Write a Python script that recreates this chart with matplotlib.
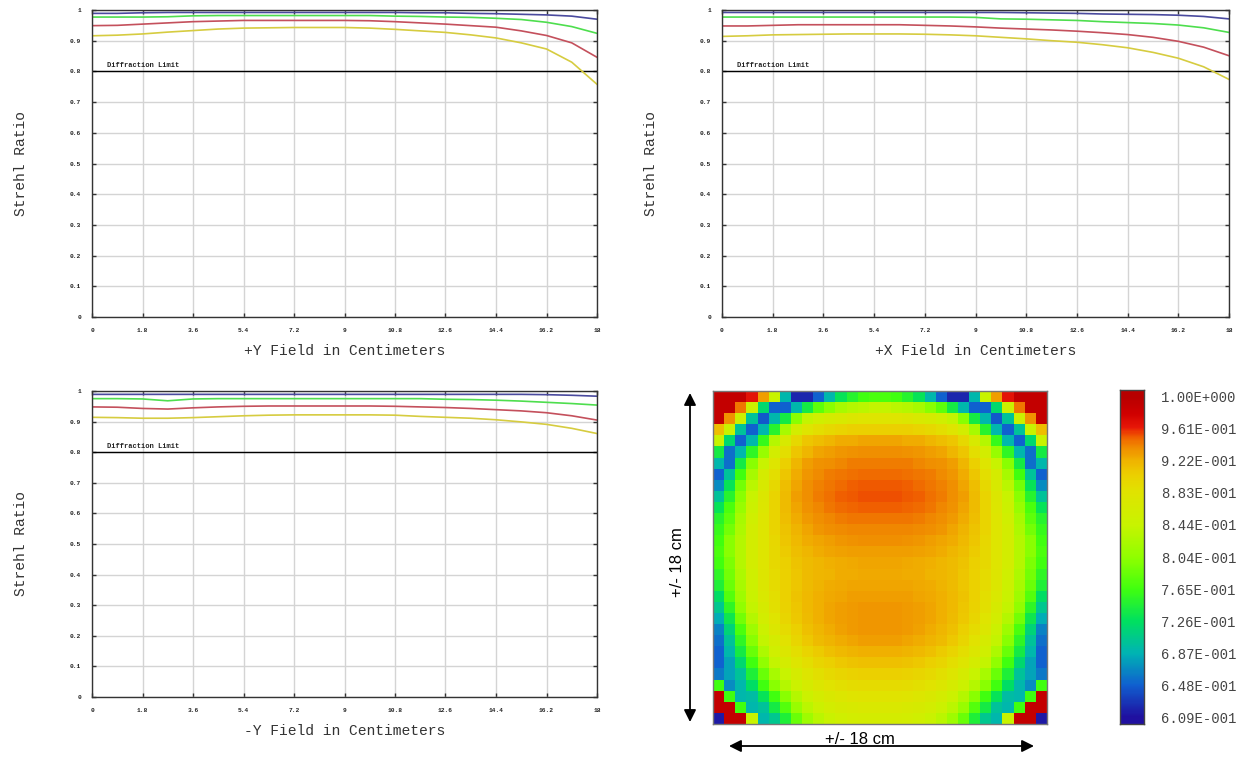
import numpy as np
import matplotlib
matplotlib.use("Agg")
import matplotlib.pyplot as plt
from matplotlib.colors import LinearSegmentedColormap, Normalize
from matplotlib.patches import FancyArrowPatch

# ---------------- data ----------------
field_x = [0, 0.9, 1.8, 2.7, 3.6, 4.5, 5.4, 6.3, 7.2, 8.1, 9.0, 9.9, 10.8, 11.7,
           12.6, 13.5, 14.4, 15.3, 16.2, 17.1, 18.0]
x_ticks = [0, 1.8, 3.6, 5.4, 7.2, 9, 10.8, 12.6, 14.4, 16.2, 18]
x_tick_labels = ["0", "1.8", "3.6", "5.4", "7.2", "9", "10.8", "12.6", "14.4", "16.2", "18"]
y_ticks = [0, 0.1, 0.2, 0.3, 0.4, 0.5, 0.6, 0.7, 0.8, 0.9, 1.0]
y_tick_labels = ["0", "0.1", "0.2", "0.3", "0.4", "0.5", "0.6", "0.7", "0.8", "0.9", "1"]

py_blue = [0.989, 0.989, 0.991, 0.992, 0.992, 0.992, 0.992, 0.992, 0.992, 0.992, 0.992,
           0.992, 0.992, 0.991, 0.991, 0.989, 0.988, 0.986, 0.984, 0.980, 0.970]
py_green = [0.977, 0.977, 0.977, 0.978, 0.981, 0.982, 0.982, 0.982, 0.982, 0.982, 0.982,
            0.982, 0.980, 0.979, 0.977, 0.976, 0.973, 0.969, 0.960, 0.946, 0.924]
py_red = [0.949, 0.950, 0.954, 0.958, 0.962, 0.964, 0.966, 0.966, 0.966, 0.966, 0.966,
          0.965, 0.962, 0.958, 0.954, 0.949, 0.944, 0.932, 0.917, 0.893, 0.846]
py_yellow = [0.916, 0.918, 0.922, 0.928, 0.933, 0.938, 0.941, 0.942, 0.943, 0.943, 0.943,
             0.941, 0.937, 0.932, 0.927, 0.919, 0.909, 0.893, 0.873, 0.830, 0.758]

px_blue = [0.992, 0.992, 0.992, 0.992, 0.992, 0.992, 0.992, 0.992, 0.992, 0.992, 0.992,
           0.992, 0.991, 0.990, 0.989, 0.987, 0.986, 0.985, 0.983, 0.979, 0.971]
px_green = [0.977, 0.977, 0.977, 0.977, 0.977, 0.977, 0.977, 0.977, 0.977, 0.977, 0.976,
            0.971, 0.970, 0.968, 0.966, 0.962, 0.959, 0.956, 0.951, 0.942, 0.927]
px_red = [0.948, 0.948, 0.950, 0.952, 0.952, 0.952, 0.952, 0.952, 0.950, 0.948, 0.945,
          0.941, 0.938, 0.935, 0.931, 0.926, 0.920, 0.911, 0.898, 0.879, 0.851]
px_yellow = [0.914, 0.916, 0.919, 0.920, 0.921, 0.922, 0.922, 0.922, 0.921, 0.919, 0.916,
             0.911, 0.906, 0.900, 0.895, 0.887, 0.877, 0.862, 0.843, 0.815, 0.774]

my_blue = [0.989, 0.989, 0.989, 0.989, 0.989, 0.989, 0.989, 0.989, 0.989, 0.989, 0.989,
           0.989, 0.989, 0.989, 0.989, 0.989, 0.989, 0.989, 0.988, 0.986, 0.983]
my_green = [0.975, 0.975, 0.974, 0.968, 0.974, 0.975, 0.975, 0.975, 0.975, 0.975, 0.975,
            0.975, 0.975, 0.975, 0.973, 0.972, 0.970, 0.967, 0.963, 0.959, 0.954]
my_red = [0.948, 0.947, 0.943, 0.941, 0.945, 0.948, 0.950, 0.951, 0.951, 0.951, 0.951,
          0.951, 0.950, 0.948, 0.946, 0.943, 0.939, 0.935, 0.929, 0.919, 0.905]
my_yellow = [0.914, 0.913, 0.911, 0.911, 0.913, 0.916, 0.919, 0.921, 0.922, 0.922, 0.922,
             0.922, 0.921, 0.917, 0.914, 0.911, 0.906, 0.899, 0.891, 0.878, 0.861]

diffraction_limit = 0.8

strehl_map = [
    [0.99,0.99,0.99,0.965,0.93,0.845,0.69,0.62,0.62,0.65,0.69,0.73,0.75,0.765,0.77,0.77,0.765,0.75,0.73,0.69,0.65,0.62,0.62,0.69,0.845,0.93,0.965,0.99,0.99,0.99],
    [0.99,0.99,0.945,0.85,0.72,0.65,0.65,0.69,0.74,0.78,0.80,0.82,0.83,0.835,0.84,0.84,0.835,0.83,0.82,0.80,0.78,0.74,0.69,0.65,0.65,0.72,0.85,0.945,0.99,0.99],
    [0.99,0.935,0.85,0.70,0.645,0.69,0.74,0.80,0.84,0.855,0.865,0.87,0.875,0.88,0.88,0.88,0.88,0.875,0.87,0.865,0.855,0.84,0.80,0.74,0.69,0.645,0.70,0.85,0.935,0.99],
    [0.915,0.845,0.70,0.65,0.69,0.75,0.82,0.86,0.88,0.89,0.895,0.90,0.905,0.905,0.905,0.905,0.905,0.905,0.90,0.895,0.89,0.88,0.86,0.82,0.75,0.69,0.65,0.70,0.845,0.915],
    [0.845,0.72,0.65,0.69,0.76,0.83,0.87,0.895,0.91,0.915,0.92,0.925,0.925,0.928,0.928,0.928,0.928,0.925,0.925,0.92,0.915,0.91,0.895,0.87,0.83,0.76,0.69,0.65,0.72,0.845],
    [0.74,0.655,0.69,0.755,0.81,0.86,0.89,0.91,0.92,0.927,0.93,0.933,0.935,0.937,0.937,0.937,0.937,0.935,0.933,0.93,0.927,0.92,0.91,0.89,0.86,0.81,0.755,0.69,0.655,0.74],
    [0.69,0.655,0.74,0.80,0.845,0.88,0.905,0.92,0.93,0.935,0.937,0.94,0.942,0.943,0.943,0.943,0.943,0.942,0.94,0.937,0.935,0.93,0.92,0.905,0.88,0.845,0.80,0.74,0.655,0.69],
    [0.65,0.70,0.765,0.82,0.865,0.89,0.91,0.925,0.933,0.938,0.942,0.944,0.946,0.948,0.948,0.948,0.948,0.946,0.944,0.942,0.938,0.933,0.925,0.91,0.89,0.865,0.82,0.765,0.70,0.65],
    [0.67,0.73,0.79,0.835,0.87,0.895,0.915,0.928,0.936,0.941,0.945,0.948,0.95,0.952,0.952,0.952,0.952,0.95,0.948,0.945,0.941,0.936,0.928,0.915,0.895,0.87,0.835,0.79,0.73,0.67],
    [0.70,0.75,0.80,0.845,0.875,0.90,0.917,0.93,0.937,0.942,0.946,0.95,0.952,0.954,0.954,0.954,0.954,0.952,0.95,0.946,0.942,0.937,0.93,0.917,0.90,0.875,0.845,0.80,0.75,0.70],
    [0.73,0.77,0.81,0.85,0.877,0.90,0.917,0.928,0.935,0.94,0.944,0.947,0.949,0.95,0.95,0.95,0.95,0.949,0.947,0.944,0.94,0.935,0.928,0.917,0.90,0.877,0.85,0.81,0.77,0.73],
    [0.75,0.78,0.82,0.855,0.88,0.90,0.915,0.925,0.932,0.937,0.94,0.942,0.944,0.945,0.945,0.945,0.945,0.944,0.942,0.94,0.937,0.932,0.925,0.915,0.90,0.88,0.855,0.82,0.78,0.75],
    [0.76,0.79,0.825,0.86,0.88,0.90,0.912,0.922,0.928,0.933,0.936,0.938,0.94,0.94,0.94,0.94,0.94,0.94,0.938,0.936,0.933,0.928,0.922,0.912,0.90,0.88,0.86,0.825,0.79,0.76],
    [0.765,0.80,0.83,0.86,0.88,0.897,0.91,0.918,0.924,0.928,0.931,0.933,0.935,0.936,0.936,0.936,0.936,0.935,0.933,0.931,0.928,0.924,0.918,0.91,0.897,0.88,0.86,0.83,0.80,0.765],
    [0.77,0.80,0.83,0.86,0.88,0.895,0.907,0.915,0.92,0.924,0.927,0.929,0.93,0.931,0.931,0.931,0.931,0.93,0.929,0.927,0.924,0.92,0.915,0.907,0.895,0.88,0.86,0.83,0.80,0.77],
    [0.765,0.795,0.83,0.86,0.88,0.895,0.905,0.912,0.917,0.92,0.923,0.925,0.926,0.927,0.927,0.927,0.927,0.926,0.925,0.923,0.92,0.917,0.912,0.905,0.895,0.88,0.86,0.83,0.795,0.765],
    [0.755,0.79,0.825,0.855,0.878,0.893,0.903,0.911,0.916,0.92,0.922,0.924,0.925,0.926,0.926,0.926,0.926,0.925,0.924,0.922,0.92,0.916,0.911,0.903,0.893,0.878,0.855,0.825,0.79,0.755],
    [0.745,0.785,0.82,0.85,0.875,0.892,0.903,0.911,0.917,0.921,0.924,0.926,0.927,0.928,0.928,0.928,0.928,0.927,0.926,0.924,0.921,0.917,0.911,0.903,0.892,0.875,0.85,0.82,0.785,0.745],
    [0.725,0.775,0.815,0.847,0.872,0.89,0.903,0.912,0.918,0.923,0.926,0.928,0.93,0.931,0.931,0.931,0.931,0.93,0.928,0.926,0.923,0.918,0.912,0.903,0.89,0.872,0.847,0.815,0.775,0.725],
    [0.705,0.755,0.805,0.84,0.867,0.887,0.901,0.911,0.918,0.923,0.927,0.93,0.932,0.933,0.933,0.933,0.933,0.932,0.93,0.927,0.923,0.918,0.911,0.901,0.887,0.867,0.84,0.805,0.755,0.705],
    [0.685,0.735,0.79,0.83,0.86,0.882,0.898,0.909,0.917,0.923,0.927,0.93,0.932,0.934,0.934,0.934,0.934,0.932,0.93,0.927,0.923,0.917,0.909,0.898,0.882,0.86,0.83,0.79,0.735,0.685],
    [0.665,0.715,0.77,0.815,0.85,0.875,0.893,0.905,0.914,0.92,0.925,0.929,0.932,0.933,0.933,0.933,0.933,0.932,0.929,0.925,0.92,0.914,0.905,0.893,0.875,0.85,0.815,0.77,0.715,0.665],
    [0.655,0.70,0.755,0.80,0.84,0.865,0.885,0.899,0.909,0.916,0.921,0.925,0.928,0.93,0.93,0.93,0.93,0.928,0.925,0.921,0.916,0.909,0.899,0.885,0.865,0.84,0.80,0.755,0.70,0.655],
    [0.65,0.69,0.74,0.785,0.825,0.855,0.875,0.89,0.90,0.908,0.914,0.918,0.921,0.923,0.923,0.923,0.923,0.921,0.918,0.914,0.908,0.90,0.89,0.875,0.855,0.825,0.785,0.74,0.69,0.65],
    [0.65,0.68,0.72,0.765,0.805,0.84,0.862,0.878,0.89,0.898,0.904,0.909,0.912,0.914,0.914,0.914,0.914,0.912,0.909,0.904,0.898,0.89,0.878,0.862,0.84,0.805,0.765,0.72,0.68,0.65],
    [0.66,0.68,0.70,0.745,0.785,0.82,0.845,0.865,0.878,0.887,0.894,0.899,0.902,0.904,0.904,0.904,0.904,0.902,0.899,0.894,0.887,0.878,0.865,0.845,0.82,0.785,0.745,0.70,0.68,0.66],
    [0.765,0.67,0.69,0.725,0.765,0.80,0.83,0.85,0.865,0.876,0.883,0.888,0.891,0.893,0.893,0.893,0.893,0.891,0.888,0.883,0.876,0.865,0.85,0.83,0.80,0.765,0.725,0.69,0.67,0.765],
    [0.99,0.765,0.69,0.695,0.73,0.765,0.80,0.83,0.85,0.862,0.871,0.877,0.881,0.883,0.883,0.883,0.883,0.881,0.877,0.871,0.862,0.85,0.83,0.80,0.765,0.73,0.695,0.69,0.765,0.99],
    [0.99,0.99,0.765,0.69,0.70,0.74,0.775,0.81,0.835,0.85,0.86,0.866,0.87,0.872,0.872,0.872,0.872,0.87,0.866,0.86,0.85,0.835,0.81,0.775,0.74,0.70,0.69,0.765,0.99,0.99],
    [0.615,0.99,0.99,0.845,0.69,0.705,0.745,0.785,0.815,0.835,0.847,0.855,0.86,0.862,0.862,0.862,0.862,0.86,0.855,0.847,0.835,0.815,0.785,0.745,0.705,0.69,0.845,0.99,0.99,0.615],
]

cbar_values = [1.0, 0.961, 0.922, 0.883, 0.844, 0.804, 0.765, 0.726, 0.687, 0.648, 0.609]
cbar_labels = ["1.00E+000", "9.61E-001", "9.22E-001", "8.83E-001", "8.44E-001",
               "8.04E-001", "7.65E-001", "7.26E-001", "6.87E-001", "6.48E-001", "6.09E-001"]

# ---------------- style ----------------
W, H = 1246, 758
fig = plt.figure(figsize=(W / 100, H / 100), dpi=100)
fig.patch.set_facecolor("white")

mono = "Liberation Mono"
line_colors = {"blue": "#4a4a9e", "green": "#4ede4e", "red": "#c4505c", "yellow": "#d6cc40"}


def fig_rect(left, top, right, bottom):
    return [left / W, 1 - bottom / H, (right - left) / W, (bottom - top) / H]


def strehl_axes(rect, xlabel, series):
    ax = fig.add_axes(rect)
    ax.set_xlim(0, 18)
    ax.set_ylim(0, 1)
    ax.set_xticks(x_ticks)
    ax.set_xticklabels(x_tick_labels)
    ax.set_yticks(y_ticks)
    ax.set_yticklabels(y_tick_labels)
    ax.grid(True, color="#d4d4d4", linewidth=1.0)
    ax.set_axisbelow(True)
    ax.tick_params(direction="in", length=3, width=1, top=True, right=True,
                   color="#333333", labelsize=4.5, labelcolor="#222222", pad=8)
    for lab in ax.get_xticklabels() + ax.get_yticklabels():
        lab.set_fontfamily(mono)
        lab.set_fontweight("bold")
    for sp in ax.spines.values():
        sp.set_color("#333333")
        sp.set_linewidth(1.0)
    ax.axhline(diffraction_limit, color="black", linewidth=1.0)
    ax.text(0.55, 0.818, "Diffraction Limit", fontfamily=mono, fontweight="bold",
            fontsize=5, color="#222222", va="center", ha="left")
    for name, vals in series:
        ax.plot(field_x, vals, color=line_colors[name], linewidth=1.2)
    ax.set_xlabel(xlabel, fontfamily=mono, fontsize=10.5, color="#333333", labelpad=8)
    ax.set_ylabel("Strehl Ratio", fontfamily=mono, fontsize=10.5, color="#333333", labelpad=30)
    return ax


strehl_axes(fig_rect(92, 10, 597, 317), "+Y Field in Centimeters",
            [("blue", py_blue), ("green", py_green), ("red", py_red), ("yellow", py_yellow)])
strehl_axes(fig_rect(722, 10, 1229, 317), "+X Field in Centimeters",
            [("blue", px_blue), ("green", px_green), ("red", px_red), ("yellow", px_yellow)])
strehl_axes(fig_rect(92, 391, 597, 697), "-Y Field in Centimeters",
            [("blue", my_blue), ("green", my_green), ("red", my_red), ("yellow", my_yellow)])

# ---------------- heatmap ----------------
vmin, vmax = 0.609, 1.0
stops = [
    (0.609, "#2010a0"),
    (0.648, "#1060d0"),
    (0.687, "#00b4b4"),
    (0.726, "#00e060"),
    (0.765, "#40ff10"),
    (0.804, "#90ff00"),
    (0.844, "#c8f400"),
    (0.883, "#e0e400"),
    (0.905, "#ecd000"),
    (0.922, "#f0b400"),
    (0.940, "#f08800"),
    (0.952, "#f05c00"),
    (0.963, "#e81808"),
    (0.980, "#d00000"),
    (1.000, "#b80000"),
]
cmap = LinearSegmentedColormap.from_list(
    "zemax", [((v - vmin) / (vmax - vmin), c) for v, c in stops])
norm = Normalize(vmin=vmin, vmax=vmax)

hax = fig.add_axes(fig_rect(713, 391, 1047, 724))
hax.imshow(np.array(strehl_map), cmap=cmap, norm=norm, aspect="auto",
           interpolation="nearest")
hax.set_xticks([])
hax.set_yticks([])
for sp in hax.spines.values():
    sp.set_color("#777777")
    sp.set_linewidth(1.0)

# colorbar
cax = fig.add_axes(fig_rect(1120, 390, 1144, 724))
vlo, vhi = 0.6017, 1.0073
grad = np.linspace(vhi, vlo, 300).reshape(-1, 1)
cax.imshow(grad, cmap=cmap, norm=norm, aspect="auto", extent=[0, 1, vlo, vhi])
cax.set_ylim(vlo, vhi)
cax.set_xticks([])
cax.yaxis.tick_right()
cax.set_yticks(cbar_values)
cax.set_yticklabels(cbar_labels)
cax.tick_params(axis="y", length=0, pad=12, labelsize=10, labelcolor="#444444")
for lab in cax.get_yticklabels():
    lab.set_fontfamily(mono)
for sp in cax.spines.values():
    sp.set_color("#444444")
    sp.set_linewidth(1.0)

# dimension arrows
arrow_kw = dict(arrowstyle="<|-|>", color="black", lw=1.3, mutation_scale=18,
                shrinkA=0, shrinkB=0)
fig.add_artist(FancyArrowPatch(
    (690 / W, 1 - 393 / H), (690 / W, 1 - 722 / H), transform=fig.transFigure, **arrow_kw))
fig.add_artist(FancyArrowPatch(
    (729 / W, 1 - 746 / H), (1034 / W, 1 - 746 / H), transform=fig.transFigure, **arrow_kw))
fig.text(678 / W, 1 - 562 / H, "+/- 18 cm", rotation=90, ha="center", va="center",
         fontfamily="Liberation Sans", fontsize=12, color="black")
fig.text(860 / W, 1 - 740 / H, "+/- 18 cm", ha="center", va="center",
         fontfamily="Liberation Sans", fontsize=12, color="black")

fig.savefig("out.png", dpi=100, facecolor="white")
